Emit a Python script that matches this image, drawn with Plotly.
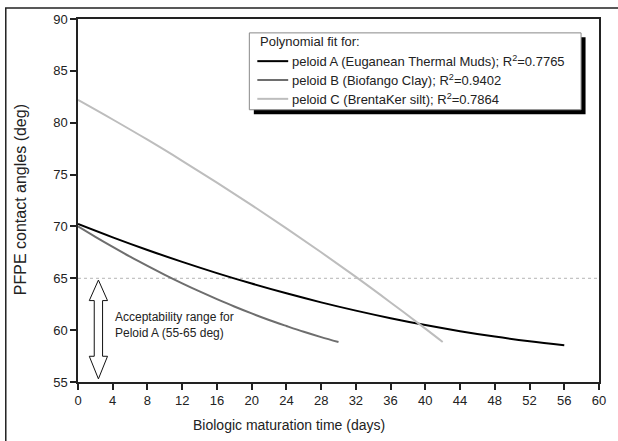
import plotly.graph_objects as go

# ---- data ----
days_a = [0, 4, 8, 12, 16, 20, 24, 28, 32, 36, 40, 44, 48, 52, 56]
peloid_a = [70.24, 68.95, 67.73, 66.58, 65.50, 64.49, 63.55, 62.68, 61.88, 61.15, 60.49, 59.90, 59.38, 58.93, 58.55]

days_b = [0, 2, 4, 6, 8, 10, 12, 14, 16, 18, 20, 22, 24, 26, 28, 30]
peloid_b = [70.00, 68.99, 68.02, 67.08, 66.19, 65.33, 64.51, 63.73, 62.99, 62.28, 61.61, 60.98, 60.40, 59.84, 59.33, 58.86]

days_c = [0, 4, 8, 12, 16, 20, 24, 28, 32, 36, 40, 42]
peloid_c = [82.20, 80.31, 78.36, 76.33, 74.23, 72.06, 69.82, 67.51, 65.13, 62.67, 60.15, 58.86]

names = [
    "peloid A (Euganean Thermal Muds); R<sup>2</sup>=0.7765",
    "peloid B (Biofango Clay); R<sup>2</sup>=0.9402",
    "peloid C (BrentaKer silt); R<sup>2</sup>=0.7864",
]
legend_title = "Polynomial fit for:"
colors = ["#000000", "#6e6e6e", "#bdbdbd"]

x_ticks = list(range(0, 61, 4))
y_ticks = [55, 60, 65, 70, 75, 80, 85, 90]
limit_upper = 65

FONT = "Arial, Liberation Sans, sans-serif"
TXT = "#222222"

# plot-area geometry (pixels) used to place decorations in paper coords
L, R, T, B = 78, 601, 16, 382
def px(xp):
    return (xp - L) / (R - L)
def py(yp):
    return (B - yp) / (B - T)

fig = go.Figure()
for xs, ys, nm, col in zip([days_a, days_b, days_c], [peloid_a, peloid_b, peloid_c], names, colors):
    fig.add_trace(go.Scatter(x=xs, y=ys, mode="lines", name=nm, showlegend=False,
                             line=dict(color=col, width=2, shape="spline")))

# dotted limit line
fig.add_shape(type="line", xref="paper", yref="y", x0=0, x1=1, y0=limit_upper, y1=limit_upper,
              line=dict(color="#b4b4b4", width=1, dash="dot"), layer="below")

# hollow double arrow (acceptability range)
cx, hw, sw = 2.35, 1.05, 0.48
top, bot = 64.83, 55.3
hh = 1.98
path = (f"M{cx},{top} L{cx+hw},{top-hh} L{cx+sw},{top-hh} L{cx+sw},{bot+hh+0.2} "
        f"L{cx+hw},{bot+hh+0.2} L{cx},{bot} L{cx-hw},{bot+hh+0.2} L{cx-sw},{bot+hh+0.2} "
        f"L{cx-sw},{top-hh} L{cx-hw},{top-hh} Z")
fig.add_shape(type="path", xref="x", yref="y", path=path,
              line=dict(color="#111111", width=1), fillcolor="white")

fig.add_annotation(x=4.0, y=60.46, xref="x", yref="y", xanchor="left", yanchor="middle",
                   text="Acceptability range for<br>Peloid A (55-65 deg)", showarrow=False,
                   align="left", font=dict(family=FONT, size=12, color=TXT))

# outer frame
fig.add_shape(type="rect", xref="paper", yref="paper", x0=px(5.5), x1=px(640), y0=py(460), y1=py(5),
              line=dict(color="#222222", width=1.5), layer="below")

# ---- legend box (drawn) ----
fig.add_shape(type="rect", xref="paper", yref="paper", x0=px(254.5), x1=px(587.5), y0=py(112), y1=py(34.5),
              line=dict(width=0), fillcolor="black", layer="above")
fig.add_shape(type="rect", xref="paper", yref="paper", x0=px(250), x1=px(583), y0=py(107.5), y1=py(30),
              line=dict(color="#888888", width=1), fillcolor="white", layer="above")
fig.add_annotation(x=px(259), y=py(39), xref="paper", yref="paper", xanchor="left", yanchor="middle",
                   text=legend_title, showarrow=False, font=dict(family=FONT, size=13, color=TXT))
row_y = [58.5, 77.5, 96.5]
for nm, col, ry in zip(names, colors, row_y):
    fig.add_shape(type="line", xref="paper", yref="paper", x0=px(258), x1=px(289), y0=py(ry), y1=py(ry),
                  line=dict(color=col, width=2), layer="above")
    fig.add_annotation(x=px(291), y=py(ry), xref="paper", yref="paper", xanchor="left", yanchor="middle",
                       text=nm, showarrow=False, font=dict(family=FONT, size=13, color=TXT))

# axis titles
fig.add_annotation(x=px(290), y=py(425), xref="paper", yref="paper", xanchor="center", yanchor="middle",
                   text="Biologic maturation time (days)", showarrow=False,
                   font=dict(family=FONT, size=14, color=TXT))
fig.add_annotation(x=px(20), y=py(198.5), xref="paper", yref="paper", xanchor="center", yanchor="middle",
                   text="PFPE contact angles (deg)", showarrow=False, textangle=-90,
                   font=dict(family=FONT, size=16, color=TXT))

fig.update_layout(
    width=618, height=441,
    margin=dict(l=L, r=618 - R, t=T, b=441 - B),
    plot_bgcolor="white", paper_bgcolor="white",
    font=dict(family=FONT, color=TXT),
    showlegend=False,
    xaxis=dict(range=[0, 60], tickvals=x_ticks, ticks="outside", ticklen=6, tickwidth=1.5,
               tickcolor="#222222", showline=True, linecolor="#222222", linewidth=1.5, mirror=True,
               showgrid=False, zeroline=False, tickfont=dict(size=13, color=TXT)),
    yaxis=dict(range=[55, 90], tickvals=y_ticks, ticks="outside", ticklen=6, tickwidth=1.5,
               tickcolor="#222222", showline=True, linecolor="#222222", linewidth=1.5, mirror=True,
               showgrid=False, zeroline=False, tickfont=dict(size=13, color=TXT)),
)

fig.write_html("out.html")
